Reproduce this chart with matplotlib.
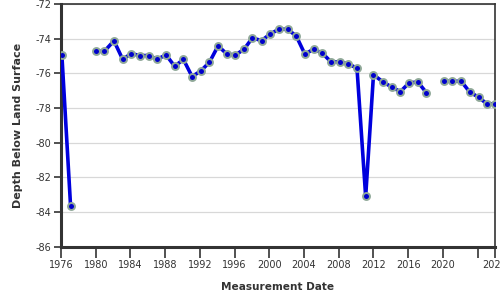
import numpy as np
import matplotlib
matplotlib.use("Agg")
import matplotlib.pyplot as plt

# Measurement dates (decimal years) and depth below land surface (ft)
years = [1976.1, 1977.1, 1978.1, 1979.1, 1980.05, 1981.0, 1982.1, 1983.1, 1984.1,
         1985.1, 1986.1, 1987.1, 1988.1, 1989.1, 1990.1, 1991.1, 1992.1, 1993.1,
         1994.1, 1995.1, 1996.1, 1997.1, 1998.05, 1999.1, 2000.1, 2001.1, 2002.1,
         2003.1, 2004.1, 2005.1, 2006.1, 2007.1, 2008.1, 2009.1, 2010.1, 2011.1,
         2012.0, 2013.1, 2014.1, 2015.1, 2016.1, 2017.1, 2018.1, 2019.1, 2020.1,
         2021.1, 2022.1, 2023.1, 2024.1, 2025.1, 2026.05]
depth = [-74.95, -83.63, np.nan, np.nan, -74.73, -74.73, -74.13, -75.19, -74.87,
         -74.98, -74.98, -75.19, -74.94, -75.6, -75.2, -76.19, -75.87, -75.37,
         -74.42, -74.89, -74.95, -74.61, -73.96, -74.12, -73.74, -73.46, -73.46,
         -73.85, -74.9, -74.61, -74.84, -75.34, -75.34, -75.46, -75.71, -83.11,
         -76.09, -76.5, -76.8, -77.06, -76.56, -76.5, -77.12, np.nan, -76.46,
         -76.46, -76.46, -77.09, -77.38, -77.78, -77.75]

xticks = [1976, 1980, 1984, 1988, 1992, 1996, 2000, 2004, 2008, 2012, 2016, 2020, 2024, 2026]
xticklabels = ["1976", "1980", "1984", "1988", "1992", "1996", "2000", "2004", "2008",
               "2012", "2016", "2020", "", "2026"]
yticks = [-86, -84, -82, -80, -78, -76, -74, -72]

fig = plt.figure(figsize=(5, 3), dpi=100)
ax = fig.add_axes([0.122, 0.178, 0.868, 0.809])

ax.plot(years, depth, color="#0000dd", linewidth=2.6, marker="o", markersize=5,
        markerfacecolor="#0000cc", markeredgecolor="#8fa898", markeredgewidth=1.4,
        zorder=3)

ax.set_xlim(1976, 2026)
ax.set_ylim(-86, -72)
ax.set_xticks(xticks)
ax.set_xticklabels(xticklabels)
ax.set_yticks(yticks)
ax.set_yticklabels([str(v) for v in yticks])

ax.grid(axis="y", color="#d8d8d8", linewidth=0.9)
ax.set_axisbelow(True)

for side in ["left", "bottom"]:
    ax.spines[side].set_linewidth(2.2)
    ax.spines[side].set_color("#333333")
for side in ["top", "right"]:
    ax.spines[side].set_linewidth(1.2)
    ax.spines[side].set_color("#333333")

ax.tick_params(axis="x", length=8, width=1.2, color="#333333", labelsize=7,
               labelcolor="#333333", pad=2)
ax.tick_params(axis="y", length=5, width=1.2, color="#333333", labelsize=7,
               labelcolor="#333333", pad=2)

ax.set_xlabel("Measurement Date", fontsize=7.6, fontweight="bold", color="#333333", labelpad=8)
ax.set_ylabel("Depth Below Land Surface", fontsize=8, fontweight="bold", color="#333333", labelpad=9)

fig.savefig("out.png", dpi=100)
